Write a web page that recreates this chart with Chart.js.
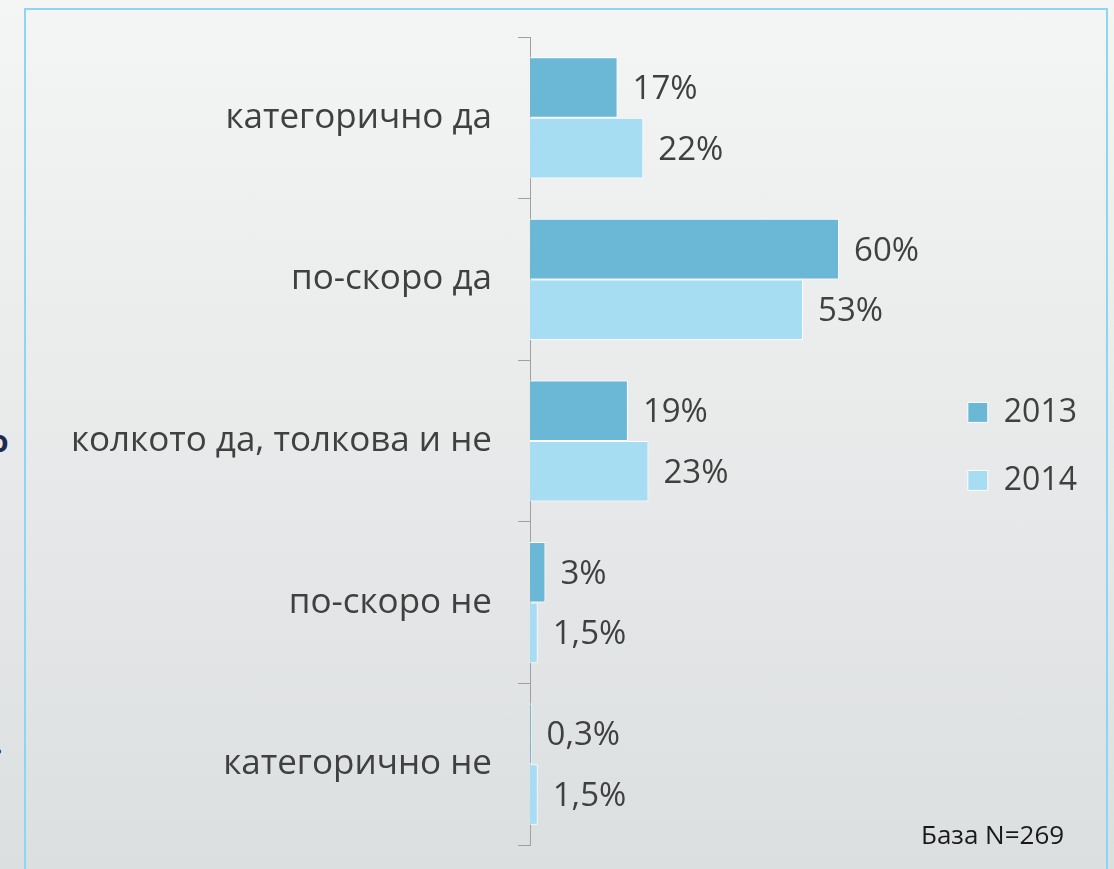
<!DOCTYPE html>
<html>
<head>
<meta charset="utf-8">
<script src="https://cdn.jsdelivr.net/npm/chart.js@4/dist/chart.umd.min.js"></script>
<style>
  html, body { margin: 0; padding: 0; }
  body {
    width: 1114px; height: 869px; overflow: hidden; position: relative;
    background: linear-gradient(#f4f5f5, #dcdfe0);
    font-family: "Open Sans", sans-serif;
  }
  #frame {
    position: absolute; left: 24px; top: 8px; width: 1080px; height: 900px;
    border: 2px solid #8ad6f4;
  }
  #wrap { position: absolute; left: 0; top: 0; width: 1114px; height: 869px; }
  .frag { position: absolute; color: #1f2a4e; font-size: 30px; font-weight: bold; }
  #base { position: absolute; left: 921px; top: 816px; font-size: 26px; color: #1a1a1a; font-family: "Open Sans", sans-serif; }
</style>
</head>
<body>
<span class="frag" style="left:-10px; top:420px;">о</span>
<span class="frag" style="left:-6px; top:722px;">.</span>
<div id="frame"></div>
<div id="wrap"><canvas id="chart" width="1114" height="869"></canvas></div>
<div id="base">База N=269</div>
<script>
const categories = ['категорично да', 'по-скоро да', 'колкото да, толкова и не', 'по-скоро не', 'категорично не'];
const values2013 = [17, 60, 19, 3, 0.3];
const values2014 = [22, 53, 23, 1.5, 1.5];
const seriesNames = ['2013', '2014'];

// draws "17%" style labels to the right of each bar
const valueLabels = {
    id: 'valueLabels',
    afterDatasetsDraw(chart) {
        const ctx = chart.ctx;
        ctx.save();
        ctx.font = '33px "Open Sans"';
        ctx.fillStyle = '#404040';
        ctx.textBaseline = 'middle';
        ctx.textAlign = 'left';
        chart.data.datasets.forEach((ds, i) => {
            chart.getDatasetMeta(i).data.forEach((bar, j) => {
                const txt = String(ds.data[j]).replace('.', ',') + '%';
                ctx.fillText(txt, bar.x + 15, bar.y + 2);
            });
        });
        ctx.restore();
    }
};

new Chart(document.getElementById('chart'), {
    type: 'bar',
    data: {
        labels: categories,
        datasets: [{
            label: seriesNames[0],
            data: values2013,
            backgroundColor: '#6ab8d6',
            borderColor: '#ffffff',
            borderWidth: 1
        }, {
            label: seriesNames[1],
            data: values2014,
            backgroundColor: '#a6ddf3',
            borderColor: '#ffffff',
            borderWidth: 1
        }]
    },
    plugins: [valueLabels],
    options: {
        indexAxis: 'y',
        responsive: false,
        animation: false,
        categoryPercentage: 0.75,
        barPercentage: 1,
        layout: {
            padding: { top: 37, bottom: 24, left: 30, right: 27 }
        },
        scales: {
            x: {
                display: false,
                min: 0,
                max: 78
            },
            y: {
                afterFit: s => {
                    s.width = 500;
                    s.paddingTop = 0;
                    s.paddingBottom = 0;
                },
                border: { display: true, color: '#a0a0a0', width: 1 },
                grid: {
                    drawOnChartArea: false,
                    drawTicks: true,
                    tickLength: 12,
                    color: '#a0a0a0'
                },
                ticks: {
                    padding: 26,
                    color: '#404040',
                    font: { family: 'Open Sans', size: 35 }
                }
            }
        },
        plugins: {
            tooltip: { enabled: false },
            legend: {
                position: 'right',
                // empty title only nudges the items down a little
                title: { display: true, text: ' ', padding: 0, font: { size: 9 } },
                labels: {
                    boxWidth: 20,
                    boxHeight: 20,
                    padding: 36,
                    color: '#404040',
                    font: { family: 'Open Sans', size: 32 }
                }
            }
        }
    }
});
</script>
</body>
</html>
